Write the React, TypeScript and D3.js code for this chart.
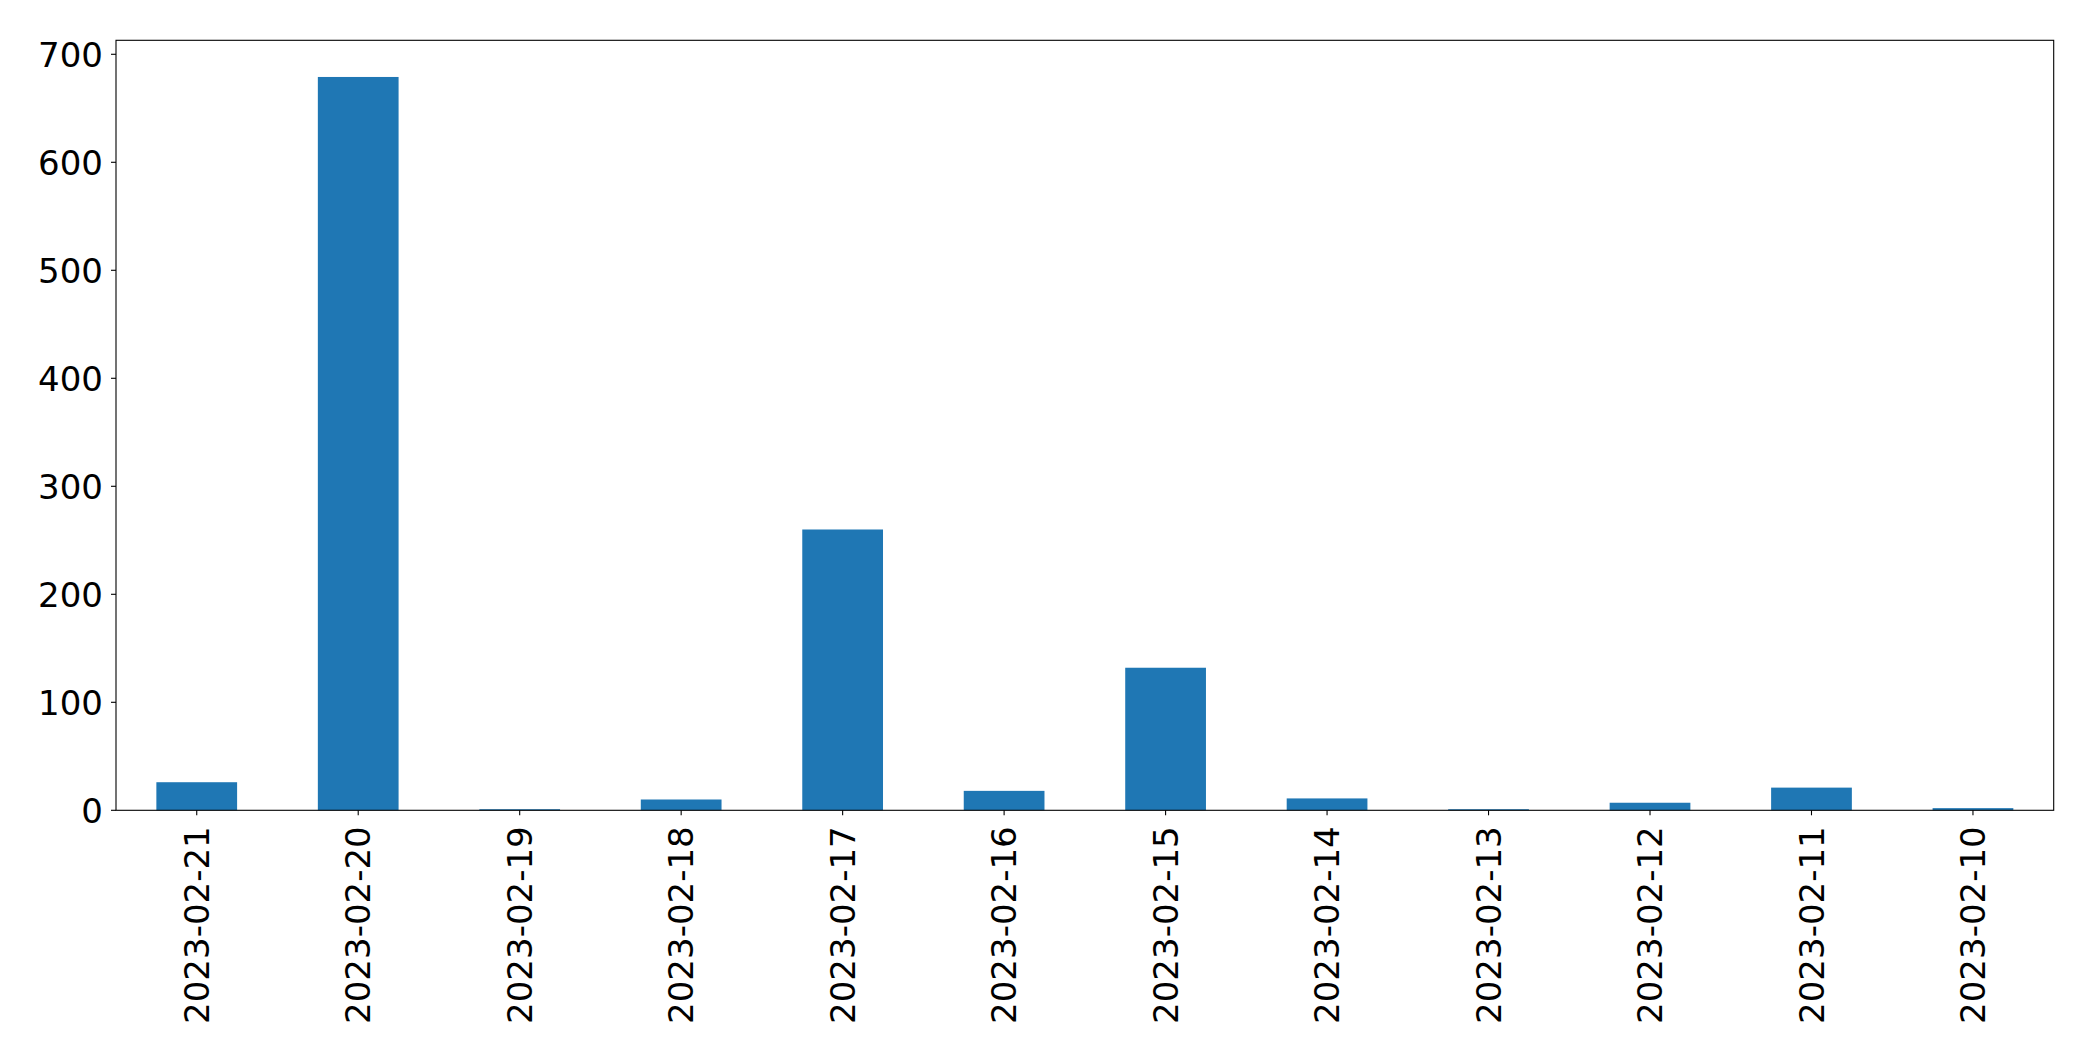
import React from "react";
import * as d3 from "d3";

const categories = [
  "2023-02-21", "2023-02-20", "2023-02-19", "2023-02-18", "2023-02-17", "2023-02-16",
  "2023-02-15", "2023-02-14", "2023-02-13", "2023-02-12", "2023-02-11", "2023-02-10",
];
const values = [26, 679, 1, 10, 260, 18, 132, 11, 1, 7, 21, 2];
const yTicks = [0, 100, 200, 300, 400, 500, 600, 700];

const W = 2093;
const H = 1062;
const left = 116;
const right = 2053.7;
const top = 40.3;
const bottom = 810.3;
const FONT = "DejaVu Sans, sans-serif";
const FS = 34;

export default function App() {
  const x = d3.scaleLinear().domain([-0.5, categories.length - 0.5]).range([left, right]);
  const yMax = (d3.max(values) as number) * 1.05;
  const y = d3.scaleLinear().domain([0, yMax]).range([bottom, top]);
  const bw = 0.5;

  return (
    <svg width={W} height={H} style={{ position: "absolute", left: 0, top: 0, background: "#fff" }}>
      <rect x={0} y={0} width={W} height={H} fill="#fff" />
      {values.map((v, i) => (
        <rect
          key={i}
          x={x(i - bw / 2)}
          y={y(v)}
          width={x(i + bw / 2) - x(i - bw / 2)}
          height={y(0) - y(v)}
          fill="#1f77b4"
        />
      ))}
      <rect x={left} y={top} width={right - left} height={bottom - top} fill="none" stroke="#000" strokeWidth={1.1} />
      {yTicks.map((t) => (
        <g key={t}>
          <line x1={left - 5} x2={left} y1={y(t)} y2={y(t)} stroke="#000" strokeWidth={1.1} />
          <text x={left - 13} y={y(t)} dy="0.36em" textAnchor="end" fontFamily={FONT} fontSize={FS} fill="#000">
            {t}
          </text>
        </g>
      ))}
      {categories.map((c, i) => (
        <g key={c}>
          <line x1={x(i)} x2={x(i)} y1={bottom} y2={bottom + 5} stroke="#000" strokeWidth={1.1} />
          <text
            transform={`translate(${x(i)},${bottom + 16}) rotate(-90)`}
            dy="0.36em"
            textAnchor="end"
            fontFamily={FONT}
            fontSize={FS}
            fill="#000"
          >
            {c}
          </text>
        </g>
      ))}
    </svg>
  );
}
